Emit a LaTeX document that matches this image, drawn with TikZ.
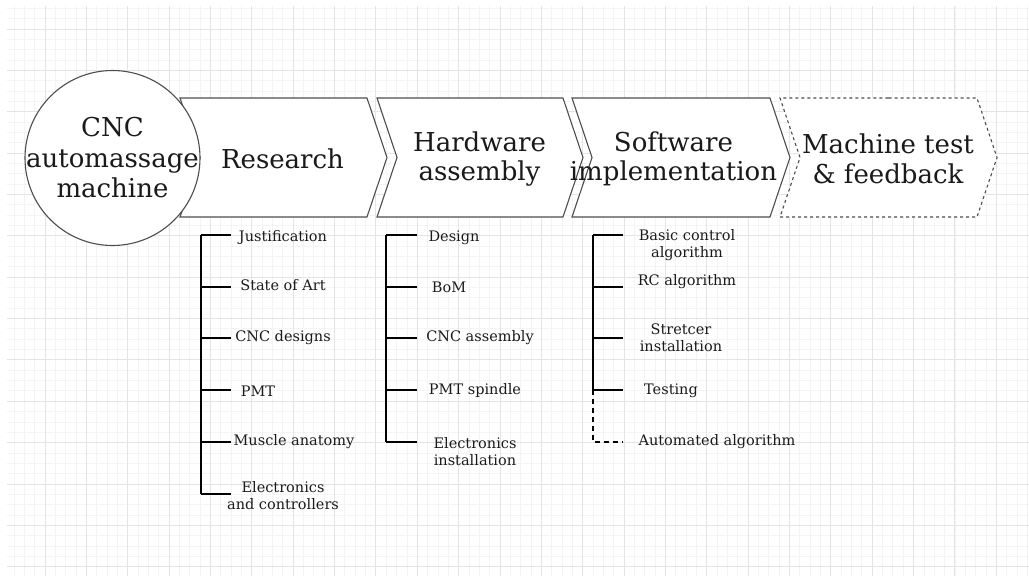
\documentclass[tikz,border=0pt]{standalone}
\usepackage{fontspec}
\setmainfont{DejaVu Serif}
\usetikzlibrary{shapes.symbols,positioning}
\definecolor{Edge}{HTML}{4D4D4D}
\definecolor{Ink}{HTML}{1A1A1A}
\definecolor{GridMinor}{HTML}{F4F4F4}
\definecolor{GridMajor}{HTML}{E4E4E4}

\begin{document}
\begin{tikzpicture}[
      x=1pt,y=-1pt,
      stage/.style={signal,signal from=west,signal to=east,
        signal pointer angle=142.8,draw=Edge,line width=1.1pt,fill=white,
        minimum height=119pt,inner sep=0pt},
      heading/.style={align=center,inner sep=0pt,text=Ink,
        font=\fontsize{26}{29.5}\selectfont},
      hub/.style={circle,draw=Edge,line width=1.1pt,fill=white,
        minimum size=175pt,inner sep=0pt},
      task/.style={align=center,inner sep=0pt,text=Ink,
        font=\fontsize{14.5}{17}\selectfont},
      spine/.style={line width=1.6pt,color=black}
    ]
      \useasboundingbox (0,0) rectangle (1029,576);
      % background grid
      \begin{scope}
        \clip (7,6) rectangle (1029,576);
        \draw[GridMinor,line width=0.8pt,step=10.34pt,shift={(3.64,8.3)}]
          (-20,-20) grid (1040,590);
        \draw[GridMajor,line width=0.9pt,step=41.36pt,shift={(3.64,29)}]
          (-50,-50) grid (1070,600);
      \end{scope}

      % stages
      \node[stage,minimum width=207pt] (research) at (283.5,157.5) {};
      \node[stage,minimum width=206pt] (hardware) at (480,157.5) {};
      \node[stage,minimum width=218pt] (software) at (681,157.5) {};
      \node[stage,minimum width=217pt,dashed] (test) at (888.5,157.5) {};
      \node[hub] (machine) at (112.5,158) {};
      \node[heading,font=\fontsize{26}{30.5}\selectfont] (machinetext)
        at (machine) {CNC\\automassage\\machine};
      \node[heading] (researchtext) at (282.5,159) {Research};
      \node[heading] (hardwaretext) at (479.5,159) {Hardware\\assembly};
      \node[heading] (softwaretext) at (673.5,159) {Software\\implementation};
      \node[heading] (testtext) at (888,159) {Machine test\\\& feedback};

      % research tasks
      \coordinate (r0) at (201,235);
      \coordinate (r5) at (201,494);
      \node[task] (justif) at (283,237) {Justification};
      \node[task] (soa) at (283,285) {State of Art};
      \node[task] (cncdes) at (283,338) {CNC designs};
      \node[task] (pmt) at (258,391) {PMT};
      \node[task] (muscle) at (294,442) {Muscle anatomy};
      \node[task] (elec) at (283,496) {Electronics\\and controllers};
      \draw[spine] (r0) -- (r5);
      \foreach \y in {235,287,338,390,442,494}
        \draw[spine] (201,\y) -- (231,\y);

      % hardware tasks
      \coordinate (h0) at (386,235);
      \coordinate (h4) at (386,442);
      \node[task] (design) at (454,238) {Design};
      \node[task] (bom) at (449,287) {BoM};
      \node[task] (cncasm) at (480,338) {CNC assembly};
      \node[task] (spindle) at (475,390) {PMT spindle};
      \node[task] (install) at (475,452) {Electronics\\installation};
      \draw[spine] (h0) -- (h4);
      \foreach \y in {235,287,338,390,442}
        \draw[spine] (386,\y) -- (417,\y);

      % software tasks
      \coordinate (s0) at (593,235);
      \coordinate (s3) at (593,390);
      \coordinate (s4) at (593,442);
      \node[task] (basic) at (687,245) {Basic control\\algorithm};
      \node[task] (rc) at (687,282) {RC algorithm};
      \node[task] (stretch) at (681,338) {Stretcer\\installation};
      \node[task] (testing) at (671,391) {Testing};
      \node[task] (auto) at (717,442) {Automated algorithm};
      \draw[spine] (s0) -- (s3);
      \foreach \y in {235,287,338,390}
        \draw[spine] (593,\y) -- (623,\y);
      \draw[spine,dash pattern=on 5pt off 4pt] (s3) -- (s4) -- (623,442);
    \end{tikzpicture}
\end{document}
